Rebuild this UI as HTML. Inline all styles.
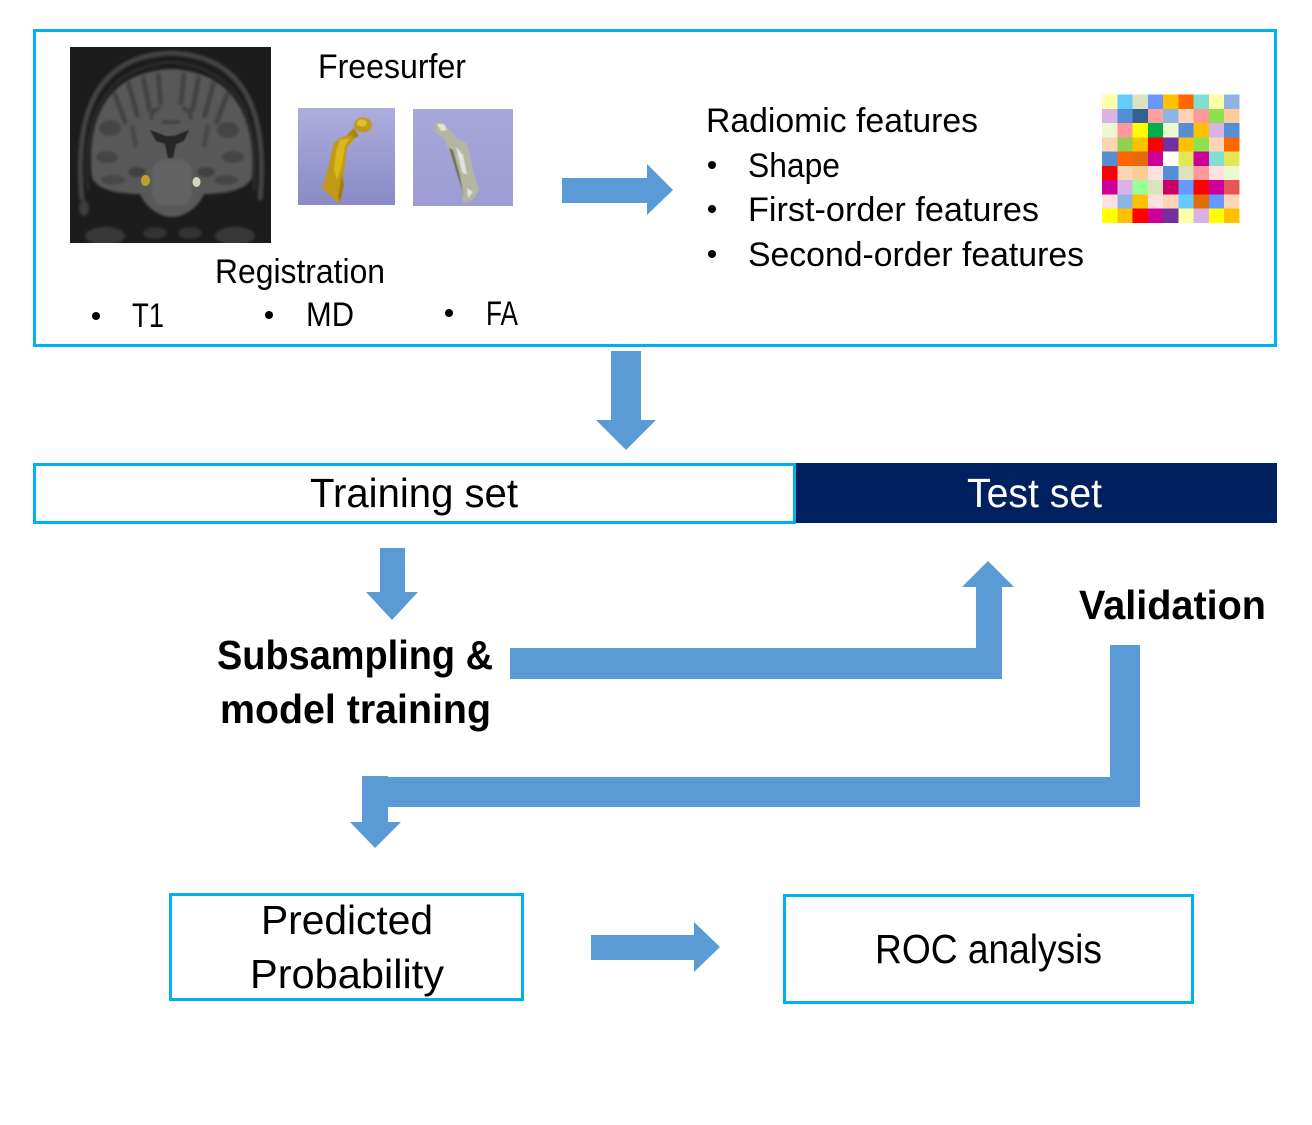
<!DOCTYPE html>
<html><head><meta charset="utf-8"><style>
html,body{margin:0;padding:0;background:#fff;width:1312px;height:1125px;overflow:hidden}
svg{display:block}
text{font-family:"Liberation Sans",sans-serif;fill:#000}
.t{font-size:34px}.b{font-size:41px}
</style></head><body>
<svg xmlns="http://www.w3.org/2000/svg" width="1312" height="1125" viewBox="0 0 1312 1125">
<defs>
<filter id="bl1"><feGaussianBlur stdDeviation="1.2"/></filter>
<filter id="bl2"><feGaussianBlur stdDeviation="2"/></filter>
<filter id="bl3"><feGaussianBlur stdDeviation="0.6"/></filter>
<clipPath id="cb"><rect x="70" y="47" width="201" height="196"/></clipPath>
<linearGradient id="g1" x1="0" y1="0" x2="0" y2="1"><stop offset="0" stop-color="#adaddd"/><stop offset="1" stop-color="#8a8ac6"/></linearGradient>
<linearGradient id="g2" x1="0" y1="0" x2="0" y2="1"><stop offset="0" stop-color="#a7a7da"/><stop offset="1" stop-color="#9d9dd4"/></linearGradient>
</defs>
<rect width="1312" height="1125" fill="#fff"/>

<rect x="34.5" y="30.5" width="1241" height="315" fill="none" stroke="#00b0f0" stroke-width="3"/>

<!-- brain -->
<g clip-path="url(#cb)">
<rect x="70" y="47" width="201" height="196" fill="#1c1c1c"/>
<g filter="url(#bl1)">
<path d="M82 200C74 115 95 56 171 53C247 56 268 115 260 200" fill="none" stroke="#454545" stroke-width="5"/>
<path d="M88 190C82 120 102 68 171 62C240 68 260 120 254 190" fill="none" stroke="#2b2b2b" stroke-width="3"/>
<path d="M92 178C86 120 106 72 171 69C236 72 256 120 252 178C246 190 225 194 204 194C198 208 184 217 172 217C160 217 146 208 140 194C118 194 98 190 92 178Z" fill="#585858"/>
<path d="M114 92l12 32M128 82l10 36M143 76l7 36M158 73l3 32M184 73l-3 32M199 76l-7 36M214 82l-10 36M228 92l-12 32" stroke="#424242" stroke-width="5" fill="none"/>
<path d="M160 108c-8 2-10 8-8 12M182 108c8 2 10 8 8 12M162 122h18" stroke="#404040" stroke-width="3.500" fill="none"/>
<ellipse cx="110" cy="128" rx="11" ry="8" fill="#454545"/><ellipse cx="107" cy="157" rx="11" ry="6" fill="#454545"/><ellipse cx="113" cy="180" rx="12" ry="5" fill="#474747"/>
<ellipse cx="228" cy="130" rx="11" ry="8" fill="#454545"/><ellipse cx="233" cy="157" rx="11" ry="6" fill="#454545"/><ellipse cx="226" cy="180" rx="12" ry="5" fill="#474747"/>
<path d="M132 125l4 22M208 125l-4 22" stroke="#484848" stroke-width="5" fill="none"/>
<ellipse cx="137" cy="172" rx="9" ry="5" fill="#3f3f3f"/><ellipse cx="206" cy="172" rx="9" ry="5" fill="#3f3f3f"/>
<rect x="152" y="160" width="40" height="45" rx="12" fill="#636363"/>
<ellipse cx="105" cy="236" rx="20" ry="9" fill="#383838"/><ellipse cx="235" cy="236" rx="20" ry="9" fill="#383838"/>
<ellipse cx="155" cy="233" rx="12" ry="6" fill="#303030"/><ellipse cx="190" cy="233" rx="12" ry="6" fill="#303030"/>
<ellipse cx="84" cy="208" rx="5" ry="8" fill="#3d3d3d"/>
</g>
<path d="M150 130l16 6 8 0 15-6-5 11-8 3-3 14h-5l-3-14-9-3Z" fill="#282828" filter="url(#bl3)"/>
<ellipse cx="145.500" cy="180.500" rx="4.500" ry="5.500" fill="#b8a22c"/>
<ellipse cx="196.500" cy="182" rx="4" ry="5" fill="#d5d5c0"/>
</g>

<!-- 3D renders -->
<rect x="298" y="108" width="97" height="97" fill="url(#g1)"/>
<g filter="url(#bl3)">
<ellipse cx="363" cy="125" rx="9" ry="7.500" fill="#bf9a12"/>
<path d="M354 128L359 136L353 139L346 136Z" fill="#a88610"/>
<path d="M342 137L353 135L353 141L347 147L345 165L342 185L340 203L336 201L322 188L328 170L331 155L334 143Z" fill="#bf9a12"/>
<path d="M340 140L350 138L345 146L342 165L337 180L334 170L336 152Z" fill="#dcb81f"/>
<ellipse cx="362" cy="123" rx="5" ry="3.500" fill="#e6c225"/>
<path d="M338 196L342 175L344 185L340 203Z" fill="#9c7d0e"/>
</g>
<rect x="413" y="109" width="100" height="97" fill="url(#g2)"/>
<g filter="url(#bl3)">
<path d="M435 123L441.700 121.700L448 128L456.700 138L466.700 143L468 148L473 170L479 190L473 200L463 203L462 190L457 173L450 155L445 140L435 132Z" fill="#b4b6a2"/>
<path d="M437 124L444 124L447 130L441 131ZM456 147L463 155L467 175L462 172ZM467 188L473 192L468 198Z" fill="#e4e4d8"/>
<path d="M449 148L453 150L460 176L464 198L462 190Z" fill="#6d6e60"/>
</g>

<!-- Color grid -->
<g transform="translate(1102 94.500) scale(15.25 14.28)" shape-rendering="crispEdges">
<rect x="0" y="0" width="1" height="1" fill="#ffffa6"/><rect x="1" y="0" width="1" height="1" fill="#66ccff"/><rect x="2" y="0" width="1" height="1" fill="#dae3bc"/><rect x="3" y="0" width="1" height="1" fill="#6699ff"/><rect x="4" y="0" width="1" height="1" fill="#ffc000"/><rect x="5" y="0" width="1" height="1" fill="#ff6600"/><rect x="6" y="0" width="1" height="1" fill="#7fdfd0"/><rect x="7" y="0" width="1" height="1" fill="#ffffa6"/><rect x="8" y="0" width="1" height="1" fill="#8eb4e3"/>
<rect x="0" y="1" width="1" height="1" fill="#d9b3e6"/><rect x="1" y="1" width="1" height="1" fill="#558ed5"/><rect x="2" y="1" width="1" height="1" fill="#376092"/><rect x="3" y="1" width="1" height="1" fill="#ffa0a0"/><rect x="4" y="1" width="1" height="1" fill="#8eb4e3"/><rect x="5" y="1" width="1" height="1" fill="#fdd5b5"/><rect x="6" y="1" width="1" height="1" fill="#ff9999"/><rect x="7" y="1" width="1" height="1" fill="#8ce250"/><rect x="8" y="1" width="1" height="1" fill="#ffcc99"/>
<rect x="0" y="2" width="1" height="1" fill="#ecf8cf"/><rect x="1" y="2" width="1" height="1" fill="#ff9999"/><rect x="2" y="2" width="1" height="1" fill="#ffff00"/><rect x="3" y="2" width="1" height="1" fill="#00b050"/><rect x="4" y="2" width="1" height="1" fill="#ecf8cf"/><rect x="5" y="2" width="1" height="1" fill="#558ed5"/><rect x="6" y="2" width="1" height="1" fill="#ffc000"/><rect x="7" y="2" width="1" height="1" fill="#d9b3e6"/><rect x="8" y="2" width="1" height="1" fill="#558ed5"/>
<rect x="0" y="3" width="1" height="1" fill="#fdd5b5"/><rect x="1" y="3" width="1" height="1" fill="#92d050"/><rect x="2" y="3" width="1" height="1" fill="#ffc000"/><rect x="3" y="3" width="1" height="1" fill="#ff0000"/><rect x="4" y="3" width="1" height="1" fill="#7030a0"/><rect x="5" y="3" width="1" height="1" fill="#ffc000"/><rect x="6" y="3" width="1" height="1" fill="#8ce250"/><rect x="7" y="3" width="1" height="1" fill="#fdd5b5"/><rect x="8" y="3" width="1" height="1" fill="#ff6600"/>
<rect x="0" y="4" width="1" height="1" fill="#558ed5"/><rect x="1" y="4" width="1" height="1" fill="#ff6600"/><rect x="2" y="4" width="1" height="1" fill="#e36c09"/><rect x="3" y="4" width="1" height="1" fill="#cc0099"/><rect x="4" y="4" width="1" height="1" fill="#ffffff"/><rect x="5" y="4" width="1" height="1" fill="#e3e655"/><rect x="6" y="4" width="1" height="1" fill="#cc0099"/><rect x="7" y="4" width="1" height="1" fill="#7fdfd0"/><rect x="8" y="4" width="1" height="1" fill="#e3e655"/>
<rect x="0" y="5" width="1" height="1" fill="#ff0000"/><rect x="1" y="5" width="1" height="1" fill="#fdd5b5"/><rect x="2" y="5" width="1" height="1" fill="#ffcc99"/><rect x="3" y="5" width="1" height="1" fill="#ffe0e0"/><rect x="4" y="5" width="1" height="1" fill="#558ed5"/><rect x="5" y="5" width="1" height="1" fill="#dae3bc"/><rect x="6" y="5" width="1" height="1" fill="#ff9999"/><rect x="7" y="5" width="1" height="1" fill="#ffe0e0"/><rect x="8" y="5" width="1" height="1" fill="#ecf8cf"/>
<rect x="0" y="6" width="1" height="1" fill="#cc0099"/><rect x="1" y="6" width="1" height="1" fill="#d9b3e6"/><rect x="2" y="6" width="1" height="1" fill="#99ff99"/><rect x="3" y="6" width="1" height="1" fill="#dae3bc"/><rect x="4" y="6" width="1" height="1" fill="#cc0066"/><rect x="5" y="6" width="1" height="1" fill="#6699ff"/><rect x="6" y="6" width="1" height="1" fill="#ff0000"/><rect x="7" y="6" width="1" height="1" fill="#cc0099"/><rect x="8" y="6" width="1" height="1" fill="#e85555"/>
<rect x="0" y="7" width="1" height="1" fill="#ffe0e0"/><rect x="1" y="7" width="1" height="1" fill="#8eb4e3"/><rect x="2" y="7" width="1" height="1" fill="#ffc000"/><rect x="3" y="7" width="1" height="1" fill="#ffe0e0"/><rect x="4" y="7" width="1" height="1" fill="#fdd5b5"/><rect x="5" y="7" width="1" height="1" fill="#66ccff"/><rect x="6" y="7" width="1" height="1" fill="#e36c09"/><rect x="7" y="7" width="1" height="1" fill="#6699ff"/><rect x="8" y="7" width="1" height="1" fill="#fdd5b5"/>
<rect x="0" y="8" width="1" height="1" fill="#ffff00"/><rect x="1" y="8" width="1" height="1" fill="#ffc000"/><rect x="2" y="8" width="1" height="1" fill="#ff0000"/><rect x="3" y="8" width="1" height="1" fill="#cc0099"/><rect x="4" y="8" width="1" height="1" fill="#7030a0"/><rect x="5" y="8" width="1" height="1" fill="#ffffa6"/><rect x="6" y="8" width="1" height="1" fill="#d9b3e6"/><rect x="7" y="8" width="1" height="1" fill="#ffff00"/><rect x="8" y="8" width="1" height="1" fill="#ffc000"/>
</g>

<!-- Top box text -->
<text class="t" x="318" y="78" textLength="148" lengthAdjust="spacingAndGlyphs">Freesurfer</text>
<text class="t" x="706" y="132" textLength="272" lengthAdjust="spacingAndGlyphs">Radiomic features</text>
<circle cx="712" cy="165" r="4"/>
<text class="t" x="748" y="177" textLength="92" lengthAdjust="spacingAndGlyphs">Shape</text>
<circle cx="712" cy="209" r="4"/>
<text class="t" x="748" y="221" textLength="291" lengthAdjust="spacingAndGlyphs">First-order features</text>
<circle cx="712" cy="254" r="4"/>
<text class="t" x="748" y="266" textLength="336" lengthAdjust="spacingAndGlyphs">Second-order features</text>
<text class="t" x="215" y="283" textLength="170" lengthAdjust="spacingAndGlyphs">Registration</text>
<circle cx="96" cy="316" r="4"/>
<text class="t" x="132" y="327" textLength="32" lengthAdjust="spacingAndGlyphs">T1</text>
<circle cx="269" cy="315" r="4"/>
<text class="t" x="306" y="326" textLength="48" lengthAdjust="spacingAndGlyphs">MD</text>
<circle cx="449" cy="313" r="4"/>
<text class="t" x="486" y="325" textLength="32" lengthAdjust="spacingAndGlyphs">FA</text>

<!-- Arrows -->
<g fill="#5b9bd5">
<path d="M562 178H647V164L673 190L647 215V203H562Z"/>
<path d="M611 351H641V420H656L626 450L596 420H611Z"/>
<path d="M380 548H405V592H418L392 620L366 592H380Z"/>
<path d="M510 648H976V587H962L988 561L1014 587H1002V679H510Z"/>
<path d="M1110 645H1140V807H388V822H401L375 848L350 822H362V776H388V777H1110Z"/>
<path d="M591 935H694V922L720 947L694 972V960H591Z"/>
</g>

<!-- Split bar -->
<rect x="34.500" y="464.500" width="760" height="58" fill="#fff" stroke="#00b0f0" stroke-width="3"/>
<rect x="796" y="463" width="481" height="60" fill="#002060"/>
<text class="b" x="310" y="507" textLength="208" lengthAdjust="spacingAndGlyphs">Training set</text>
<text class="b" x="967" y="507" textLength="135" lengthAdjust="spacingAndGlyphs" style="fill:#fff">Test set</text>

<!-- Bold labels -->
<text class="b" x="217" y="669" textLength="276" lengthAdjust="spacingAndGlyphs" font-weight="bold">Subsampling &amp;</text>
<text class="b" x="220" y="723" textLength="271" lengthAdjust="spacingAndGlyphs" font-weight="bold">model training</text>
<text class="b" x="1079" y="619" textLength="187" lengthAdjust="spacingAndGlyphs" font-weight="bold">Validation</text>

<!-- Bottom boxes -->
<rect x="170.500" y="894.500" width="352" height="105" fill="#fff" stroke="#00b0f0" stroke-width="3"/>
<text class="b" x="261" y="934" textLength="172" lengthAdjust="spacingAndGlyphs">Predicted</text>
<text class="b" x="250" y="988" textLength="194" lengthAdjust="spacingAndGlyphs">Probability</text>
<rect x="784.500" y="895.500" width="408" height="107" fill="#fff" stroke="#00b0f0" stroke-width="3"/>
<text class="b" x="875" y="963" textLength="227" lengthAdjust="spacingAndGlyphs">ROC analysis</text>
</svg>
</body></html>
